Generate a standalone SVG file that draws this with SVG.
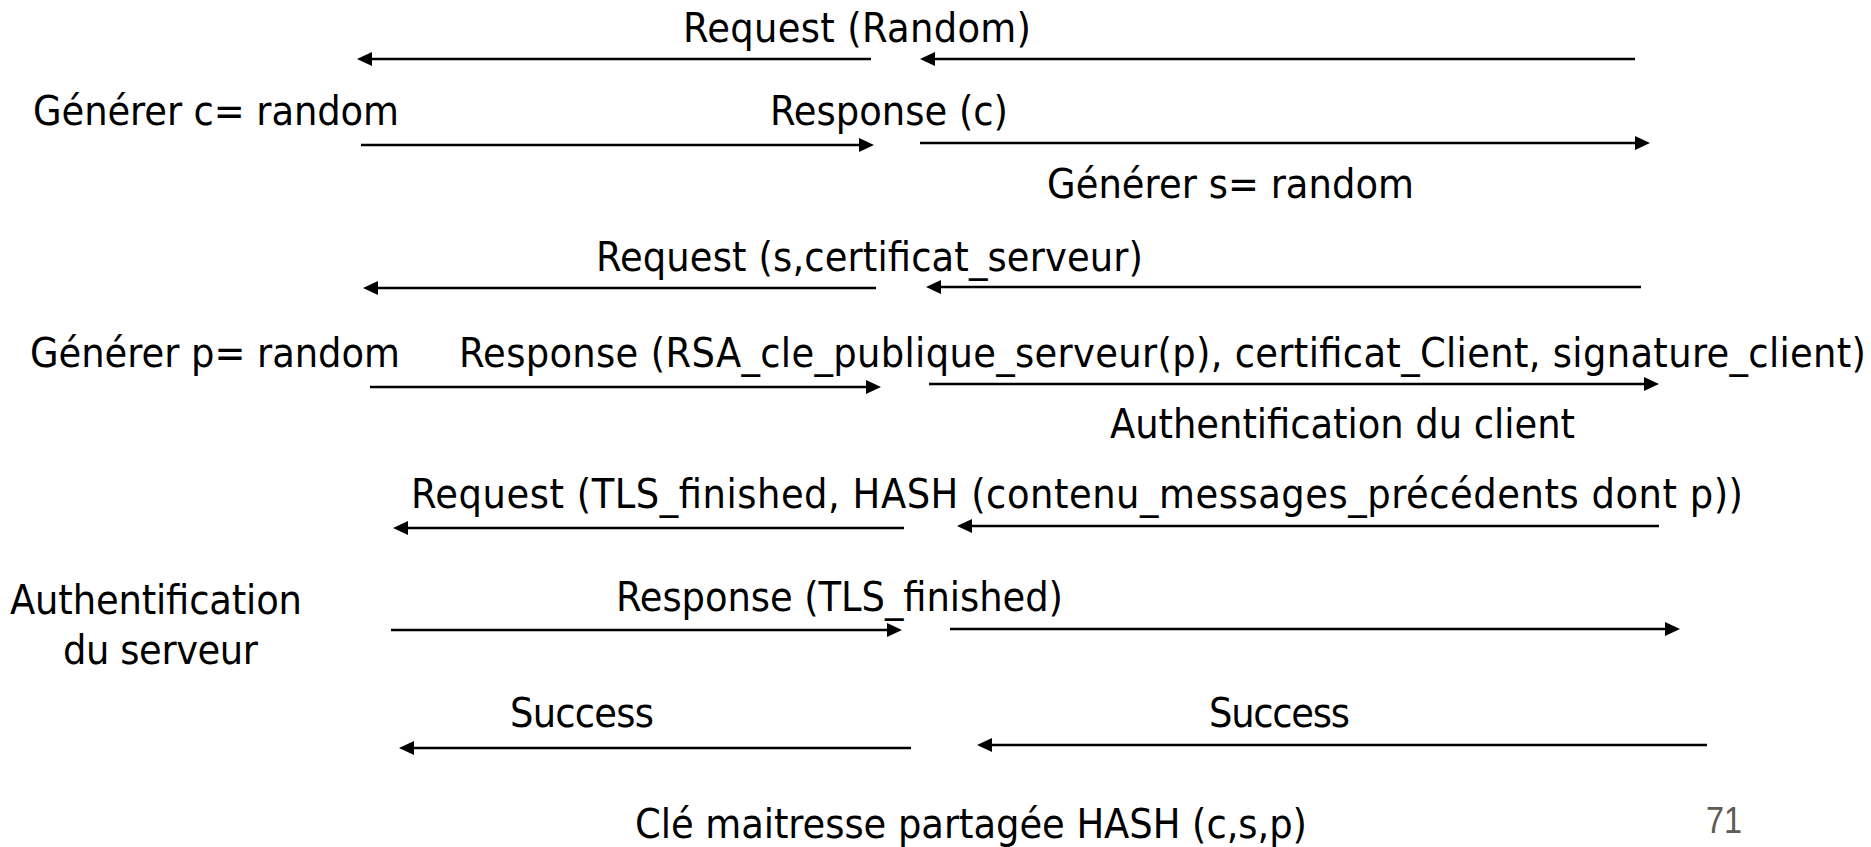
<svg xmlns="http://www.w3.org/2000/svg" width="1871" height="847" viewBox="0 0 1871 847">
  <style>
    .lbl { font-family: "DejaVu Sans Condensed", "Liberation Sans", Arial, sans-serif; font-size: 41px; fill: #000; }
    .page { font-family: "Liberation Sans", Arial, sans-serif; font-size: 36px; fill: #5f5a52; }
    .msg { fill: none; stroke: #000; stroke-width: 2.7; marker-end: url(#head); }
  </style>
  <defs>
    <marker id="head" markerUnits="userSpaceOnUse" markerWidth="15" markerHeight="14" refX="5" refY="7" orient="auto">
      <path d="M0,0 L15,7 L0,14 z" fill="#000"/>
    </marker>
  </defs>
  <rect width="1871" height="847" fill="#fff"/>

  <!-- message arrows -->
  <g id="connectors">
    <path class="msg" d="M871,59 H367"/>
    <path class="msg" d="M1635,59 H930"/>
    <path class="msg" d="M361,145 H864"/>
    <path class="msg" d="M920,143 H1640"/>
    <path class="msg" d="M876,288 H373"/>
    <path class="msg" d="M1641,287 H936"/>
    <path class="msg" d="M370,387 H871"/>
    <path class="msg" d="M929,384 H1649"/>
    <path class="msg" d="M904,528 H403"/>
    <path class="msg" d="M1659,526 H967"/>
    <path class="msg" d="M391,630 H892"/>
    <path class="msg" d="M950,629 H1670"/>
    <path class="msg" d="M911,748 H409"/>
    <path class="msg" d="M1707,745 H987"/>
  </g>

  <!-- labels -->
  <g id="req-random"><text class="lbl" x="683" y="42" textLength="348">Request (Random)</text></g>
  <g id="gen-c"><text class="lbl" x="33" y="125" textLength="366">Générer c= random</text></g>
  <g id="resp-c"><text class="lbl" x="770" y="125" textLength="238">Response (c)</text></g>
  <g id="gen-s"><text class="lbl" x="1047" y="198" textLength="367">Générer s= random</text></g>
  <g id="req-cert"><text class="lbl" x="596" y="271" textLength="547">Request (s,certificat_serveur)</text></g>
  <g id="gen-p"><text class="lbl" x="30" y="367" textLength="370">Générer p= random</text></g>
  <g id="resp-rsa"><text class="lbl" x="459" y="367" textLength="1407">Response (RSA_cle_publique_serveur(p), certificat_Client, signature_client)</text></g>
  <g id="auth-client"><text class="lbl" x="1110" y="438" textLength="465">Authentification du client</text></g>
  <g id="req-finished"><text class="lbl" x="411" y="508" textLength="1332">Request (TLS_finished, HASH (contenu_messages_précédents dont p))</text></g>
  <g id="auth-server">
    <text class="lbl" x="10" y="614" textLength="292">Authentification</text>
    <text class="lbl" x="63" y="664" textLength="195">du serveur</text>
  </g>
  <g id="resp-finished"><text class="lbl" x="616" y="611" textLength="447">Response (TLS_finished)</text></g>
  <g id="success-left"><text class="lbl" x="510" y="727" textLength="144">Success</text></g>
  <g id="success-right"><text class="lbl" x="1209" y="727" textLength="141">Success</text></g>
  <g id="master-key"><text class="lbl" x="635" y="838" textLength="672">Clé maitresse partagée HASH (c,s,p)</text></g>
  <g id="page-number"><text class="page" x="1706" y="833" textLength="36" lengthAdjust="spacingAndGlyphs">71</text></g>
</svg>
